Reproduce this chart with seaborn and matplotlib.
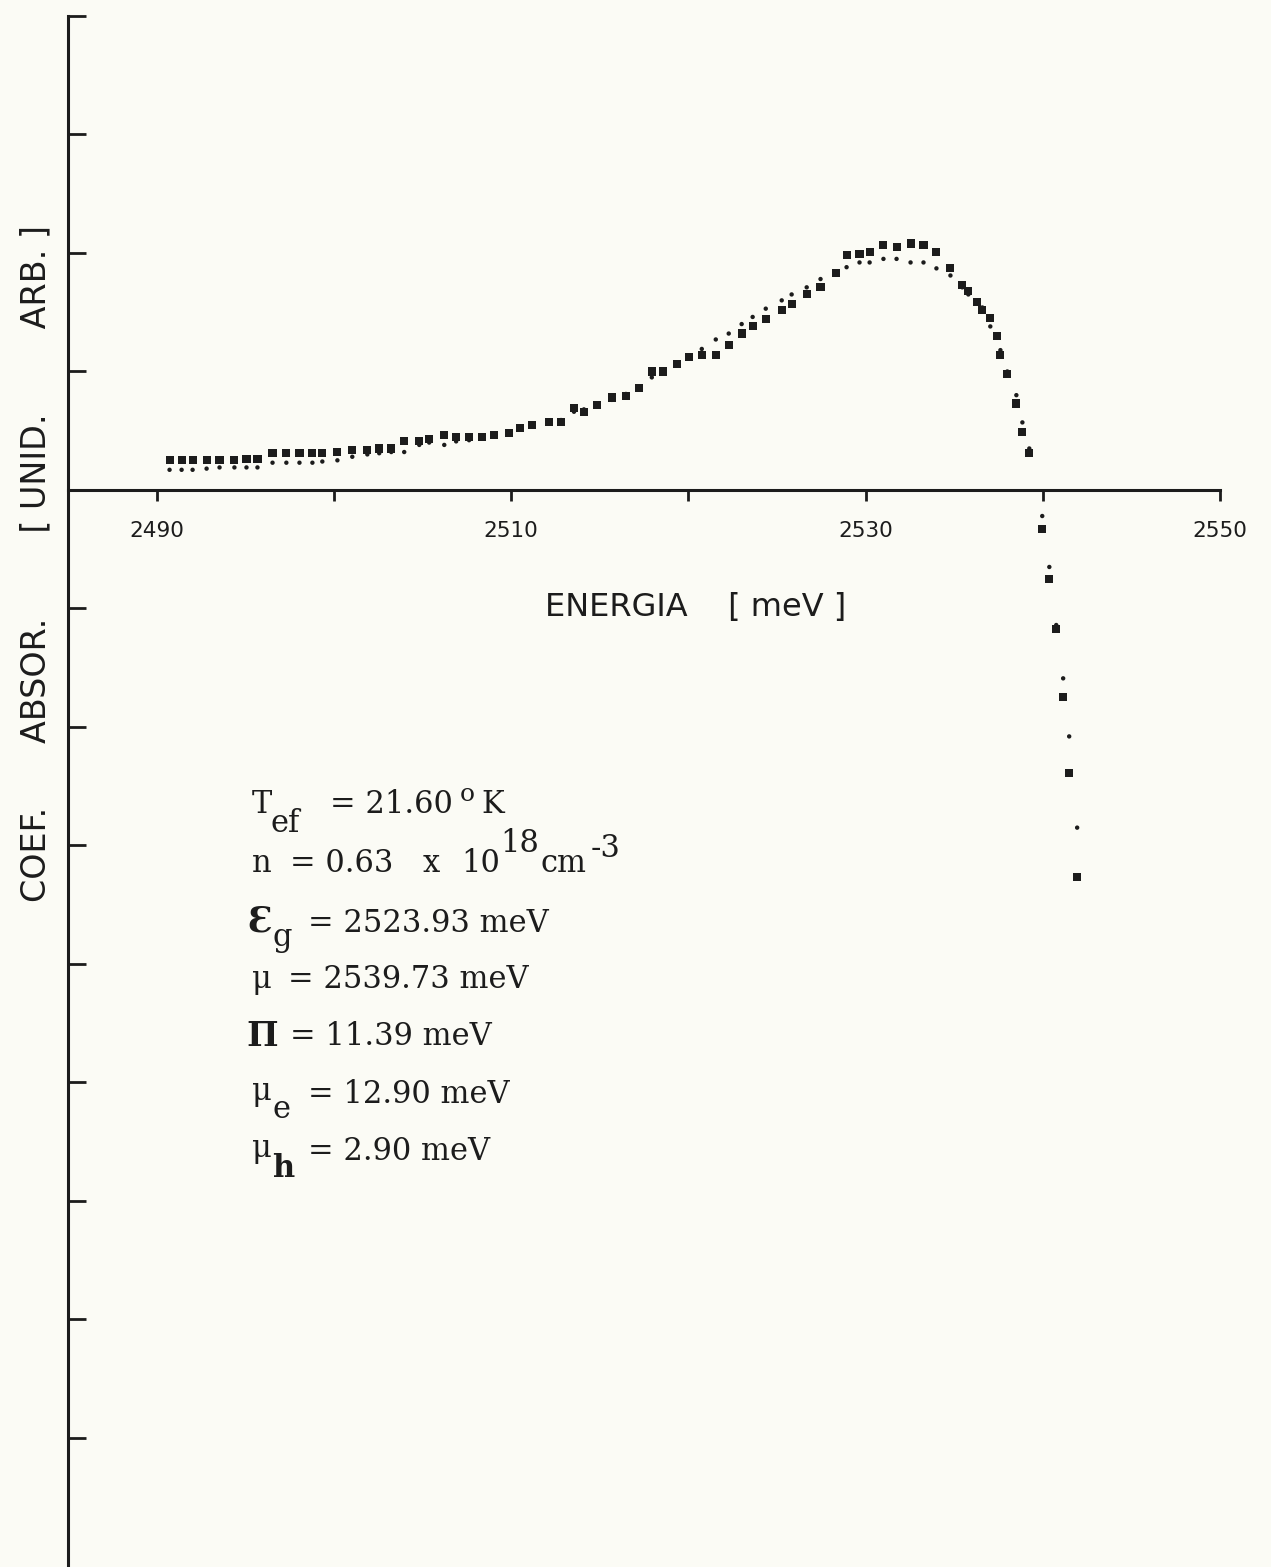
import matplotlib
matplotlib.use('Agg')
import matplotlib.pyplot as plt
import numpy as np
import pandas as pd
import seaborn as sns

# energia [meV] dos pontos medidos
energia = [2490.73, 2491.41, 2492.03, 2492.82, 2493.55, 2494.39, 2495.07, 2495.69, 2496.54, 2497.32,
           2498.06, 2498.79, 2499.35, 2500.20, 2501.04, 2501.89, 2502.56, 2503.24, 2503.97, 2504.82,
           2505.38, 2506.23, 2506.90, 2507.63, 2508.37, 2509.04, 2509.89, 2510.51, 2511.18, 2512.14,
           2512.82, 2513.55, 2514.11, 2514.85, 2515.69, 2516.48, 2517.21, 2517.94, 2518.56, 2519.35,
           2520.03, 2520.76, 2521.55, 2522.28, 2523.01, 2523.63, 2524.37, 2525.27, 2525.83, 2526.68,
           2527.46, 2528.31, 2528.93, 2529.66, 2530.23, 2531.01, 2531.75, 2532.54, 2533.27, 2534.00,
           2534.79, 2535.46, 2535.80, 2536.31, 2536.59, 2537.04, 2537.44, 2537.61, 2538.00, 2538.51,
           2538.85, 2539.24, 2539.97, 2540.37, 2540.76, 2541.15, 2541.49, 2541.94]

# coef. de absorcao experimental (quadrados)
alfa_exp = [0.25, 0.25, 0.25, 0.25, 0.25, 0.25, 0.26, 0.26, 0.31, 0.31,
            0.31, 0.31, 0.31, 0.32, 0.34, 0.34, 0.35, 0.35, 0.41, 0.41,
            0.43, 0.46, 0.45, 0.45, 0.45, 0.46, 0.48, 0.52, 0.55, 0.57,
            0.57, 0.69, 0.66, 0.72, 0.78, 0.79, 0.86, 1.00, 1.00, 1.06,
            1.12, 1.14, 1.14, 1.22, 1.32, 1.38, 1.44, 1.52, 1.57, 1.65,
            1.71, 1.83, 1.98, 1.99, 2.01, 2.07, 2.05, 2.08, 2.07, 2.01,
            1.87, 1.73, 1.68, 1.59, 1.52, 1.45, 1.30, 1.14, 0.98, 0.73,
            0.49, 0.31, -0.33, -0.75, -1.17, -1.75, -2.39, -3.27]

# coef. de absorcao calculado (pontos)
alfa_teo = [0.17, 0.17, 0.17, 0.18, 0.19, 0.19, 0.19, 0.19, 0.23, 0.23,
            0.23, 0.23, 0.24, 0.25, 0.28, 0.30, 0.31, 0.32, 0.32, 0.38,
            0.40, 0.38, 0.41, 0.42, 0.44, 0.45, 0.48, 0.51, 0.54, 0.57,
            0.59, 0.66, 0.68, 0.72, 0.76, 0.81, 0.86, 0.95, 1.01, 1.06,
            1.13, 1.19, 1.27, 1.32, 1.40, 1.46, 1.53, 1.60, 1.65, 1.71,
            1.78, 1.84, 1.88, 1.92, 1.92, 1.95, 1.95, 1.92, 1.92, 1.87,
            1.81, 1.71, 1.65, 1.60, 1.54, 1.38, 1.31, 1.18, 1.00, 0.80,
            0.57, 0.35, -0.22, -0.65, -1.14, -1.59, -2.08, -2.85]

xticks = [2490, 2500, 2510, 2520, 2530, 2540, 2550]
xtick_labels = ['2490', '', '2510', '', '2530', '', '2550']
yticks = [-8, -7, -6, -5, -4, -3, -2, -1, 0, 1, 2, 3, 4]

sns.set_style('white')
plt.rcParams['font.family'] = ['DejaVu Sans']

paper = '#fbfbf5'
ink = '#1c1c1c'
W, H = 1271, 1567

fig = plt.figure(figsize=(W / 100, H / 100), dpi=100, facecolor=paper)
ax = fig.add_axes([68 / W, 0, (1220 - 68) / W, (1567 - 16) / H])
ax.set_facecolor(paper)

df = pd.DataFrame({'energia': energia, 'exp': alfa_exp, 'teo': alfa_teo})
sns.scatterplot(data=df, x='energia', y='exp', marker='s', s=34, color=ink,
                edgecolor='none', linewidth=0, ax=ax, zorder=3)
sns.scatterplot(data=df, x='energia', y='teo', marker='o', s=10, color=ink,
                edgecolor='none', linewidth=0, ax=ax, zorder=3)

ax.set_xlim(2485, 2550)
ax.set_ylim(-9.09, 4)

for s in ['top', 'right']:
    ax.spines[s].set_visible(False)
ax.spines['bottom'].set_position(('data', 0))
ax.spines['bottom'].set_linewidth(2.2)
ax.spines['bottom'].set_color(ink)
ax.spines['left'].set_linewidth(2.2)
ax.spines['left'].set_color(ink)

ax.set_xticks(xticks)
ax.set_xticklabels(xtick_labels, fontsize=15.5)
ax.tick_params(axis='x', bottom=True, direction='out', length=8, width=2,
               pad=14, colors=ink)
ax.set_yticks(yticks)
ax.set_yticklabels([])
ax.tick_params(axis='y', left=True, direction='in', length=13, width=2, colors=ink)

ax.set_xlabel('ENERGIA    [ meV ]', fontsize=23, color=ink)
ax.xaxis.set_label_coords((696 - 68) / 1152, (1567 - 592) / 1551)
ax.set_ylabel('COEF.      ABSOR.        [ UNID.        ARB. ]', fontsize=24, color=ink)
ax.yaxis.set_label_coords((52 - 68) / 1152, (1567 - 564) / 1551)

# parametros do ajuste, texto datilografado
serif = ['DejaVu Serif', 'DejaVu Sans']


def put(x, y, txt, size=22, weight='normal'):
    fig.text(x / W, 1 - y / H, txt, fontsize=size, family=serif, ha='left',
             va='baseline', color=ink, fontweight=weight)


put(252, 813, 'T')
put(271, 832, 'ef')
put(330, 813, '= 21.60')
put(460, 801, 'o', size=18)
put(481, 813, 'K')

put(252, 872, 'n')
put(290, 872, '= 0.63')
put(423, 872, 'x')
put(461, 872, '10')
put(500, 852, '18')
put(540, 872, 'cm')
put(591, 857, '-3')

put(247, 932, 'Ɛ', size=25, weight='bold')
put(272, 946, 'g')
put(308, 932, '= 2523.93 meV')

put(252, 988, 'μ')
put(288, 988, '= 2539.73 meV')

put(246, 1046, 'Π', size=24, weight='bold')
put(290, 1045, '= 11.39 meV')

put(252, 1100, 'μ')
put(273, 1118, 'e')
put(308, 1103, '= 12.90 meV')

put(252, 1157, 'μ')
put(272, 1177, 'h', weight='bold')
put(308, 1160, '= 2.90 meV')

fig.savefig('out.png', dpi=100, facecolor=paper)
